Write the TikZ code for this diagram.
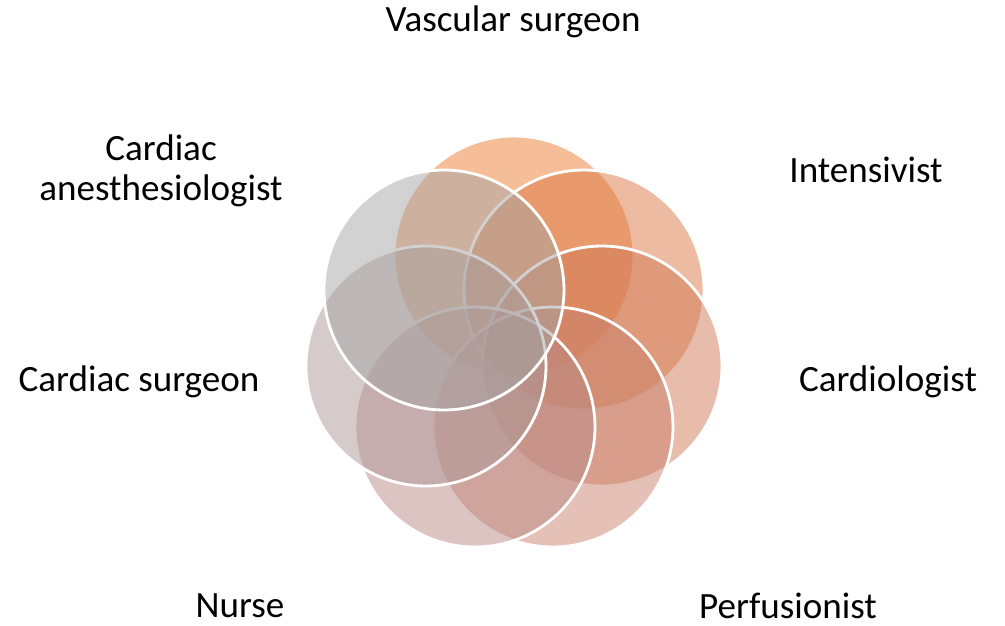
\documentclass[tikz,border=0pt]{standalone}
\usepackage{fontspec}
\setmainfont{Carlito}
\usepackage{xcolor}
\usepackage{tikz}
\usetikzlibrary{positioning}
\definecolor{tmOrange}{HTML}{ED7D31}
\definecolor{tmRust}{HTML}{DB7743}
\definecolor{tmClay}{HTML}{D17957}
\definecolor{tmRose}{HTML}{C9816D}
\definecolor{tmMauve}{HTML}{B98985}
\definecolor{tmTaupe}{HTML}{AD9797}
\definecolor{tmGray}{HTML}{A5A5A5}
\tikzset{
  tmcircle/.style={
    circle,
    draw=white,
    line width=1.6pt,
    fill=#1,
    fill opacity=0.5,
    draw opacity=1,
    minimum size=4.8cm,
    inner sep=0pt
  },
  tmlabel/.style={
    align=center,
    text=black,
    inner sep=1pt,
    font=\fontsize{21.1}{23}\selectfont
  }
}

\begin{document}
\begin{tikzpicture}[x=0.02cm, y=-0.02cm]
  \useasboundingbox (0,0) rectangle (1005,626);

  \node[tmcircle=tmOrange] (vascular) at (514,256) {};
  \node[tmcircle=tmRust] (intensive) at (584,290) {};
  \node[tmcircle=tmClay] (cardio) at (602,366) {};
  \node[tmcircle=tmRose] (perfusion) at (553,427) {};
  \node[tmcircle=tmMauve] (nurse) at (475,427) {};
  \node[tmcircle=tmTaupe] (surgeon) at (426,366) {};
  \node[tmcircle=tmGray] (anesth) at (444,290) {};

  \node[tmlabel] (vascularlbl) at (513,22) {Vascular surgeon};
  \node[tmlabel] (intensivelbl) at (866,170) {Intensivist};
  \node[tmlabel] (cardiolbl) at (888,382) {Cardiologist};
  \node[tmlabel] (perfusionlbl) at (788,606) {Perfusionist};
  \node[tmlabel] (nurselbl) at (240,606) {Nurse};
  \node[tmlabel] (surgeonlbl) at (139,382) {Cardiac surgeon};
  \node[tmlabel] (anesthlbl) at (161,171) {Cardiac\\anesthesiologist};
\end{tikzpicture}
\end{document}
